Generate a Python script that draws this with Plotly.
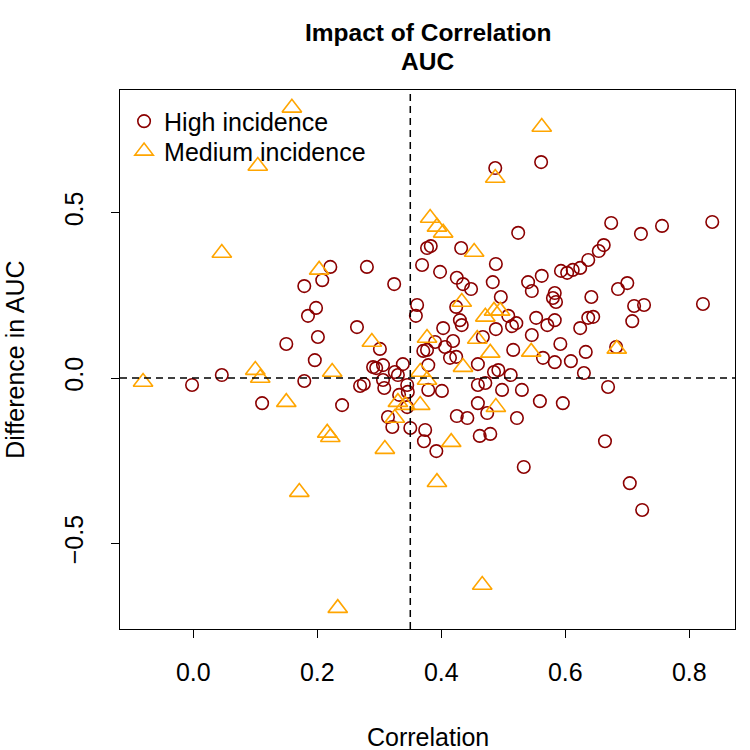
import plotly.graph_objects as go

# High incidence (open circles)
high_x = [0.487, 0.561, 0.674, 0.722, 0.756, 0.837, 0.662, 0.654, 0.637, 0.624,
          0.612, 0.603, 0.593, 0.562, 0.524, 0.377, 0.383, 0.432, 0.488, 0.369,
          0.221, 0.280, 0.398, 0.208, 0.179, 0.324, 0.425, 0.435, 0.448, 0.483,
          0.540, 0.546, 0.496, 0.583, 0.580, 0.585, 0.642, 0.685, 0.700, 0.711,
          0.727, 0.822, 0.708, 0.637, 0.645, 0.624, 0.553, 0.571, 0.583, 0.546,
          0.592, 0.633, 0.682, 0.564, 0.583, 0.609, 0.630, 0.669, 0.559, 0.596,
          0.664, 0.704, 0.724, 0.533, 0.521, 0.508, 0.514, 0.488, 0.467, 0.516,
          0.419, 0.424, 0.459, 0.485, 0.492, 0.512, 0.459, 0.471, 0.498, 0.530,
          0.459, 0.474, 0.425, 0.442, 0.522, 0.462, 0.479, 0.264, 0.301, 0.361,
          0.359, 0.403, 0.406, 0.390, 0.371, 0.377, 0.379, 0.414, 0.290, 0.295,
          0.306, 0.325, 0.338, 0.330, 0.269, 0.275, 0.306, 0.308, 0.345, 0.346,
          0.332, 0.379, 0.401, 0.240, 0.345, 0.314, 0.321, 0.350, 0.374, 0.372,
          0.392, 0.198, 0.185, 0.201, 0.150, 0.196, 0.179, 0.046, -0.002, 0.111,
          0.424, 0.430, 0.433]
high_y = [0.635, 0.653, 0.469, 0.436, 0.460, 0.472, 0.402, 0.384, 0.357, 0.333,
          0.327, 0.318, 0.324, 0.309, 0.439, 0.393, 0.399, 0.393, 0.345, 0.342,
          0.336, 0.336, 0.321, 0.296, 0.278, 0.284, 0.303, 0.284, 0.269, 0.290,
          0.290, 0.263, 0.245, 0.257, 0.242, 0.230, 0.245, 0.269, 0.287, 0.218,
          0.221, 0.224, 0.172, 0.182, 0.185, 0.151, 0.182, 0.160, 0.175, 0.130,
          0.103, 0.079, 0.094, 0.061, 0.048, 0.051, 0.015, -0.027, -0.070, -0.076,
          -0.191, -0.318, -0.399, -0.269, 0.166, 0.188, 0.157, 0.148, 0.124, 0.085,
          0.112, 0.064, 0.042, 0.018, 0.024, 0.009, -0.021, -0.015, -0.036, -0.036,
          -0.076, -0.106, -0.115, -0.121, -0.121, -0.175, -0.169, 0.154, 0.088, 0.221,
          0.188, 0.151, 0.094, 0.109, 0.082, 0.085, 0.039, 0.061, 0.033, 0.030,
          0.039, 0.018, 0.042, 0.009, -0.024, -0.018, -0.006, -0.030, -0.021, -0.042,
          -0.051, -0.036, -0.039, -0.082, -0.088, -0.118, -0.148, -0.151, -0.157, -0.191,
          -0.221, 0.212, 0.188, 0.124, 0.103, 0.054, -0.009, 0.009, -0.021, -0.076,
          0.215, 0.175, 0.160]

# Medium incidence (open triangles)
med_x = [-0.081, 0.046, 0.104, 0.159, 0.100, 0.108, 0.150, 0.203, 0.216, 0.221,
         0.171, 0.309, 0.393, 0.466, 0.233, 0.416, 0.487, 0.382, 0.393, 0.403,
         0.453, 0.562, 0.545, 0.683, 0.288, 0.377, 0.366, 0.377, 0.330, 0.342,
         0.366, 0.325, 0.433, 0.471, 0.485, 0.495, 0.458, 0.479, 0.435, 0.488,
         0.224]
med_y = [-0.012, 0.378, 0.641, 0.817, 0.024, 0.000, -0.073, 0.327, -0.166, -0.179,
         -0.345, -0.215, -0.315, -0.626, -0.696, -0.194, 0.605, 0.484, 0.457, 0.439,
         0.381, 0.759, 0.079, 0.088, 0.109, 0.121, 0.018, -0.006, -0.073, -0.082,
         -0.082, -0.121, 0.230, 0.185, 0.203, 0.203, 0.118, 0.076, 0.033, -0.088,
         0.018]

x_ticks = [0.0, 0.2, 0.4, 0.6, 0.8]
x_ticklabels = ["0.0", "0.2", "0.4", "0.6", "0.8"]
y_ticks = [-0.5, 0.0, 0.5]
y_ticklabels = ["\u22120.5", "0.0", "0.5"]
corr_cut = 0.35
diff_ref = 0.0

FONT = "Liberation Sans, Arial, sans-serif"

fig = go.Figure()
fig.add_trace(go.Scatter(
    x=high_x, y=high_y, mode="markers", name="High incidence", legend="legend",
    marker=dict(symbol="circle-open", size=12.5, color="#8B0000",
                line=dict(width=1.6, color="#8B0000")),
))
fig.add_trace(go.Scatter(
    x=med_x, y=med_y, mode="markers", name="Medium incidence", legend="legend2",
    marker=dict(symbol="triangle-up-open", size=17, color="#FFA500",
                line=dict(width=1.6, color="#FFA500")),
))

fig.add_shape(type="line", xref="x", yref="paper", x0=corr_cut, x1=corr_cut, y0=0, y1=1,
              line=dict(color="black", width=1.5, dash="7px,5px"), layer="above")
fig.add_shape(type="line", xref="paper", yref="y", x0=0, x1=1, y0=diff_ref, y1=diff_ref,
              line=dict(color="black", width=1.5, dash="7px,5px"), layer="above")

fig.add_annotation(text="<b>Impact of Correlation</b>", xref="paper", yref="paper",
                   x=0.5, y=1.1076, xanchor="center", yanchor="middle", showarrow=False,
                   font=dict(size=24.5, color="black", family=FONT))
fig.add_annotation(text="<b>AUC</b>", xref="paper", yref="paper",
                   x=0.5, y=1.0538, xanchor="center", yanchor="middle", showarrow=False,
                   font=dict(size=24.5, color="black", family=FONT))
fig.add_annotation(text="Correlation", xref="paper", yref="paper",
                   x=0.5, y=-0.2004, xanchor="center", yanchor="middle", showarrow=False,
                   font=dict(size=25, color="black", family=FONT))
fig.add_annotation(text="Difference in AUC", xref="paper", yref="paper",
                   x=-0.172, y=0.5, xanchor="center", yanchor="middle", showarrow=False,
                   textangle=-90, font=dict(size=25, color="black", family=FONT))

legend_style = dict(xanchor="left", yanchor="top", bgcolor="rgba(0,0,0,0)",
                    borderwidth=0, font=dict(size=25, family=FONT))
fig.update_layout(
    width=750, height=750,
    margin=dict(l=120, r=15, t=90, b=121),
    paper_bgcolor="white", plot_bgcolor="white",
    font=dict(family=FONT, size=24, color="black"),
    showlegend=True,
    legend=dict(x=0.0066, y=0.9844, **legend_style),
    legend2=dict(x=0.0066, y=0.9288, **legend_style),
)
fig.update_xaxes(range=[-0.1182, 0.8737], tickvals=x_ticks, ticktext=x_ticklabels,
                 showgrid=False, zeroline=False, showline=True, mirror=True,
                 linecolor="black", linewidth=1.3, ticks="outside", ticklen=8,
                 tickwidth=1.3, tickcolor="black", tickfont=dict(size=25),
                 ticklabelstandoff=13)
fig.update_yaxes(range=[-0.759, 0.871], tickvals=y_ticks, ticktext=y_ticklabels,
                 showgrid=False, zeroline=False, showline=True, mirror=True,
                 linecolor="black", linewidth=1.3, ticks="outside", ticklen=8,
                 tickwidth=1.3, tickcolor="black", tickangle=-90, tickfont=dict(size=25),
                 ticklabelstandoff=18)

fig.write_html("out.html")
